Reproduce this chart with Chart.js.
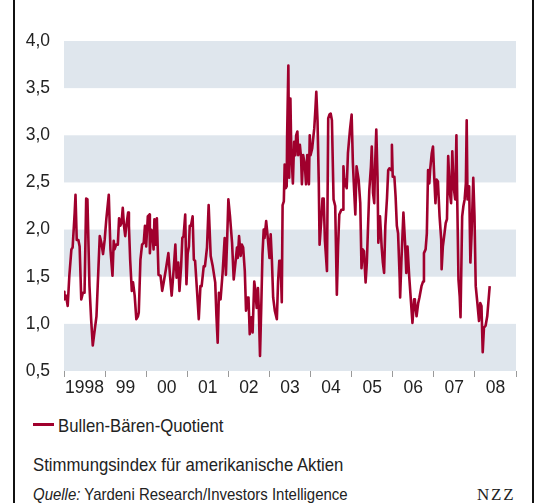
<!DOCTYPE html>
<html>
<head>
<meta charset="utf-8">
<script src="https://cdn.jsdelivr.net/npm/chart.js@4"></script>
<style>
  html, body { margin: 0; padding: 0; background: #fff; }
  #wrap { position: relative; width: 535px; height: 503px; overflow: hidden; font-family: "Liberation Sans", Arial, sans-serif; color: #222; }
  #cv { position: absolute; left: 0; top: 0; }
  .frame { position: absolute; top: 0; width: 2px; height: 503px; background: #111; }
  .txt { position: absolute; white-space: nowrap; font-size: 19px; line-height: 19px; transform: scaleX(0.88); transform-origin: 0 50%; }
  #legline { position: absolute; left: 33px; top: 423px; width: 21px; height: 3px; background: #a0002d; }
</style>
</head>
<body>
<div id="wrap">
  <canvas id="cv" width="535" height="402"></canvas>
  <div class="frame" style="left:13px"></div>
  <div class="frame" style="left:532px"></div>
  <div id="legline"></div>
  <div class="txt" style="left:58px; top:415.5px;">Bullen-Bären-Quotient</div>
  <div class="txt" style="left:33px; top:455px;">Stimmungsindex für amerikanische Aktien</div>
  <div class="txt" style="left:33px; top:486px; font-size:17px; line-height:17px;"><i>Quelle:</i> Yardeni Research/Investors Intelligence</div>
  <div class="txt" style="left:477px; top:486px; transform:none; font-family:'Liberation Serif', 'Times New Roman', serif; font-size:17px; line-height:17px; letter-spacing:1.8px;">NZZ</div>
</div>
<script>
// Dates as decimal years, values = Bullen-Bären-Quotient
const dates = [
1998.00,1998.01,1998.05,1998.09,1998.13,1998.18,1998.21,1998.26,1998.28,1998.31,1998.35,1998.38,1998.42,1998.46,1998.50,1998.54,1998.57,1998.62,1998.66,1998.70,
1998.74,1998.79,1998.82,1998.87,1998.91,1998.95,1998.99,1999.03,1999.09,1999.13,1999.18,1999.21,1999.23,1999.27,1999.31,1999.34,1999.37,1999.40,1999.43,1999.46,
1999.49,1999.52,1999.56,1999.58,1999.61,1999.65,1999.68,1999.72,1999.76,1999.80,1999.82,1999.86,1999.90,1999.94,1999.97,2000.00,2000.04,2000.08,2000.09,2000.12,
2000.15,2000.18,2000.20,2000.23,2000.26,2000.30,2000.35,2000.39,2000.43,2000.48,2000.54,2000.58,2000.62,2000.67,2000.71,2000.74,2000.78,2000.81,2000.85,2000.88,
2000.91,2000.95,2000.98,2001.01,2001.04,2001.06,2001.09,2001.13,2001.16,2001.19,2001.24,2001.28,2001.32,2001.35,2001.40,2001.43,2001.48,2001.52,2001.57,2001.62,
2001.68,2001.71,2001.74,2001.77,2001.81,2001.86,2001.91,2001.94,2001.97,2002.00,2002.04,2002.09,2002.13,2002.18,2002.21,2002.23,2002.26,2002.30,2002.33,2002.36,
2002.40,2002.43,2002.47,2002.49,2002.52,2002.56,2002.59,2002.63,2002.65,2002.69,2002.72,2002.74,2002.77,2002.80,2002.83,2002.86,2002.88,2002.92,2002.96,2003.00,
2003.03,2003.06,2003.09,2003.13,2003.18,2003.21,2003.24,2003.27,2003.30,2003.32,2003.35,2003.37,2003.40,2003.42,2003.43,2003.46,2003.48,2003.51,2003.53,2003.57,
2003.60,2003.63,2003.65,2003.68,2003.70,2003.74,2003.77,2003.79,2003.82,2003.86,2003.89,2003.92,2003.96,2003.98,2004.00,2004.04,2004.06,2004.09,2004.12,2004.14,
2004.17,2004.20,2004.22,2004.26,2004.29,2004.32,2004.35,2004.40,2004.43,2004.46,2004.49,2004.52,2004.56,2004.60,2004.64,2004.67,2004.70,2004.75,2004.79,2004.80,
2004.83,2004.86,2004.88,2004.91,2004.96,2005.00,2005.03,2005.06,2005.09,2005.12,2005.17,2005.21,2005.24,2005.27,2005.30,2005.34,2005.37,2005.40,2005.43,2005.47,
2005.49,2005.52,2005.55,2005.57,2005.60,2005.63,2005.65,2005.69,2005.73,2005.76,2005.79,2005.82,2005.86,2005.89,2005.92,2005.96,2005.98,2006.00,2006.04,2006.07,
2006.10,2006.13,2006.17,2006.18,2006.21,2006.26,2006.30,2006.33,2006.36,2006.40,2006.44,2006.48,2006.52,2006.54,2006.58,2006.62,2006.65,2006.70,2006.74,2006.76,
2006.80,2006.83,2006.86,2006.89,2006.91,2006.95,2006.98,2007.01,2007.04,2007.07,2007.10,2007.14,2007.18,2007.19,2007.22,2007.26,2007.29,2007.32,2007.35,2007.39,
2007.42,2007.45,2007.48,2007.52,2007.55,2007.57,2007.60,2007.63,2007.65,2007.69,2007.72,2007.75,2007.78,2007.80,2007.82,2007.86,2007.89,2007.92,2007.96,2007.99,
2008.02,2008.06,2008.10,2008.13,2008.16,2008.19,2008.22,2008.26,2008.30,2008.36
];
const quotient = [
1.34,1.26,1.30,1.19,1.51,1.79,1.81,2.18,2.37,1.89,1.89,1.82,1.26,1.33,1.33,2.33,2.32,1.40,1.05,0.77,
0.91,1.08,1.40,1.93,1.86,1.74,1.89,2.11,2.37,1.79,1.51,1.88,1.79,1.84,1.84,2.12,2.04,2.07,2.23,2.04,
1.93,2.05,2.18,2.04,1.68,1.35,1.44,1.30,1.05,1.08,1.12,1.68,1.84,1.86,2.04,1.82,2.14,2.16,1.75,2.00,
1.98,1.79,2.11,1.84,2.12,1.52,1.51,1.35,1.45,1.58,1.75,1.51,1.30,1.58,1.84,1.49,1.65,1.35,1.61,1.91,
1.93,2.16,1.42,1.75,1.82,2.04,2.04,2.14,1.68,1.67,1.33,1.05,1.40,1.40,1.61,1.61,1.81,2.26,1.72,1.61,
1.44,1.08,0.80,1.33,1.26,1.54,1.91,1.52,1.89,2.32,2.14,1.86,1.47,1.68,1.81,1.70,1.93,1.72,1.84,1.81,
1.56,1.14,1.28,1.28,0.89,1.07,0.91,1.45,1.38,1.17,1.38,1.17,0.66,1.17,1.74,2.00,1.91,2.09,1.91,1.70,
1.95,1.67,1.28,1.14,1.05,1.45,1.67,1.67,1.23,2.26,2.30,2.69,2.44,2.46,3.00,3.74,2.55,3.39,2.86,2.49,
2.93,2.79,3.00,3.04,2.79,2.90,2.76,2.48,2.79,2.69,2.48,2.79,2.48,3.00,2.79,2.86,2.95,3.07,3.29,3.46,
3.15,2.51,1.84,2.09,2.33,2.33,1.88,1.56,3.18,3.22,3.23,3.16,2.32,2.25,1.31,1.82,2.16,2.21,2.21,2.67,
2.46,2.53,2.44,2.81,3.06,3.22,2.71,2.42,2.16,2.67,2.53,2.28,1.59,1.79,1.77,1.44,1.65,2.04,2.42,2.67,
2.88,2.39,2.28,2.67,3.06,2.56,1.86,2.14,1.82,1.65,1.54,2.04,2.33,2.63,2.65,2.63,2.90,2.56,2.56,2.35,
2.04,1.96,1.47,1.28,1.65,2.18,1.86,1.54,1.82,1.51,1.26,1.01,1.26,1.24,1.08,1.22,1.28,1.40,1.45,1.75,
1.79,1.96,2.63,2.49,2.63,2.81,2.88,2.56,2.28,2.53,2.51,2.14,1.89,1.58,1.82,1.96,2.07,2.11,2.78,2.39,
2.28,2.83,2.46,2.32,3.00,2.32,1.47,1.29,1.07,2.14,2.25,2.32,2.49,3.16,2.32,2.46,1.65,1.96,2.55,2.14,
1.40,1.22,1.03,1.22,1.19,0.70,0.96,0.98,1.08,1.40
];
const yearTicks = [1998,1999,2000,2001,2002,2003,2004,2005,2006,2007,2008,2009];
const yearLabels = ['1998','99','00','01','02','03','04','05','06','07','08',''];
const bandRanges = [[3.5,4.0],[2.5,3.0],[1.5,2.0],[0.5,1.0]];

const RED = '#a0002d';
const FONT = "'Liberation Sans', Arial, sans-serif";

const bands = {
  id: 'bands',
  beforeDatasetsDraw(chart) {
    const {ctx, chartArea, scales} = chart;
    ctx.save();
    ctx.fillStyle = '#dfe6ed';
    bandRanges.forEach(([a, b]) => {
      const y1 = scales.y.getPixelForValue(b);
      const y2 = scales.y.getPixelForValue(a);
      ctx.fillRect(chartArea.left, y1, chartArea.right - chartArea.left, y2 - y1);
    });
    ctx.restore();
  }
};

new Chart(document.getElementById('cv'), {
  type: 'line',
  data: {
    datasets: [{
      label: 'Bullen-Bären-Quotient',
      data: dates.map((d, i) => ({x: d, y: quotient[i]})),
      borderColor: RED,
      borderWidth: 2.6,
      pointRadius: 0,
      tension: 0,
      fill: false,
      borderJoinStyle: 'round'
    }]
  },
  options: {
    responsive: false,
    animation: false,
    events: [],
    layout: { padding: { left: 0, right: 19, top: 41, bottom: 0 } },
    plugins: { legend: { display: false }, tooltip: { enabled: false } },
    scales: {
      x: {
        type: 'linear',
        min: 1998, max: 2009,
        afterBuildTicks(scale) { scale.ticks = yearTicks.map(v => ({value: v})); },
        afterFit(scale) { scale.height = 31; },
        ticks: {
          autoSkip: false, maxRotation: 0, minRotation: 0,
          labelOffset: 20.5, padding: 1,
          color: '#222', font: { family: FONT, size: 17.5 },
          callback(v) { const i = yearTicks.indexOf(v); return i >= 0 ? yearLabels[i] : ''; }
        },
        grid: { drawOnChartArea: false, drawTicks: true, tickLength: 6, color: '#9a9a9a', lineWidth: 1 },
        border: { display: false }
      },
      y: {
        min: 0.5, max: 4.0,
        afterFit(scale) { scale.width = 64; },
        ticks: {
          stepSize: 0.5, padding: 6,
          color: '#222', font: { family: FONT, size: 17.5 },
          callback(v) { return v.toFixed(1).replace('.', ','); }
        },
        grid: { display: false },
        border: { display: false }
      }
    }
  },
  plugins: [bands]
});
</script>
</body>
</html>
